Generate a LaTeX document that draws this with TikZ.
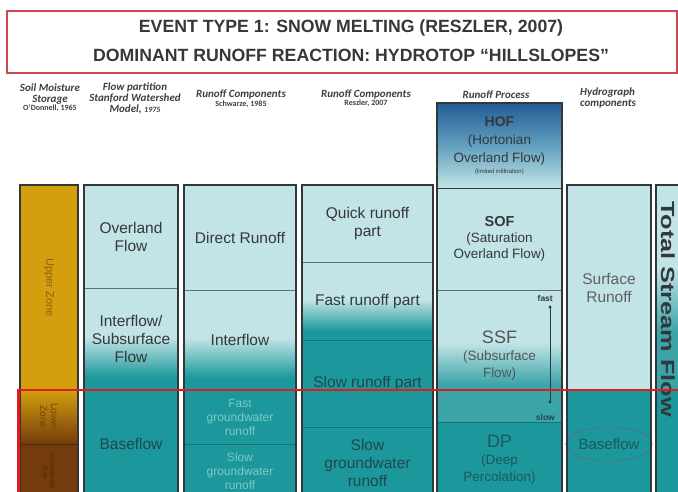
\documentclass[tikz,border=0pt]{standalone}
\usepackage{fontspec}
\setmainfont{Liberation Sans}
\newfontfamily\hdrfont{Carlito}
\usetikzlibrary{shapes.geometric}

\definecolor{lightc}{RGB}{194,228,230}
\definecolor{tealc}{RGB}{28,152,156}
\definecolor{tealmid}{RGB}{58,164,168}
\definecolor{tealdk}{RGB}{20,112,116}
\definecolor{hofmid}{RGB}{98,160,190}
\definecolor{goldc}{RGB}{212,158,14}
\definecolor{brownc}{RGB}{116,60,12}
\definecolor{hofblue}{RGB}{34,92,150}
\definecolor{framec}{RGB}{50,56,58}
\definecolor{divgray}{RGB}{95,112,116}
\definecolor{redc}{RGB}{222,30,30}
\definecolor{titlered}{RGB}{205,70,80}
\definecolor{txt}{RGB}{52,56,58}
\definecolor{txtteal}{RGB}{30,72,78}
\definecolor{fainttxt}{RGB}{125,200,200}
\definecolor{hdrc}{RGB}{62,62,62}
\definecolor{zonetxt}{RGB}{140,98,16}
\definecolor{zonedk}{RGB}{70,40,10}
\definecolor{ellc}{RGB}{88,108,140}

% vertical blends (bounding box maps to 25bp..75bp)
\pgfdeclareverticalshading{fadeteal}{100bp}{color(0bp)=(tealc); color(31bp)=(tealc); color(51bp)=(lightc); color(100bp)=(lightc)}
\pgfdeclareverticalshading{fadessf}{100bp}{color(0bp)=(tealmid); color(39bp)=(tealmid); color(55bp)=(lightc); color(100bp)=(lightc)}
\pgfdeclareverticalshading{goldbrown}{100bp}{color(0bp)=(brownc); color(25bp)=(brownc); color(75bp)=(goldc); color(100bp)=(goldc)}
\pgfdeclareverticalshading{hofshade}{100bp}{color(0bp)=(lightc); color(25bp)=(lightc); color(50bp)=(hofmid); color(75bp)=(hofblue); color(100bp)=(hofblue)}

\begin{document}
\begin{tikzpicture}[x=1pt,y=-1pt,
  cell/.style={anchor=north west, inner sep=0pt, outer sep=0pt, align=center, text=txt,
    font=\fontsize{15.5}{18}\selectfont},
  lt/.style={cell, fill=lightc},
  tl/.style={cell, fill=tealc, text=txtteal},
  fd/.style={cell, shade, shading=fadeteal},
  frame/.style={anchor=north west, inner sep=0pt, outer sep=0pt, draw=framec, line width=2.4pt},
  divl/.style={draw=divgray, line width=0.9pt},
  divt/.style={draw=tealdk, line width=0.9pt},
  hdr/.style={align=center, text=hdrc, inner sep=0pt,
    font=\hdrfont\bfseries\itshape\fontsize{11}{11}\selectfont},
  cite/.style={text=hdrc, inner sep=0pt, font=\hdrfont\bfseries\fontsize{8}{8}\selectfont},
  ztxt/.style={rotate=-90, align=center, inner sep=0pt, text=zonetxt},
]
\useasboundingbox (0,0) rectangle (678,492);
\clip (0,0) rectangle (678,492);

% title
\node[anchor=north west, draw=titlered, line width=1.6pt, minimum width=670pt, minimum height=62pt, inner sep=0pt] (tbox) at (6,10) {};
\node[align=center, inner sep=0pt, text=txt, font=\bfseries\fontsize{17.7}{29}\selectfont] (ttl) at (351,41)
  {EVENT TYPE 1: SNOW MELTING (RESZLER, 2007)\\DOMINANT RUNOFF REACTION: HYDROTOP “HILLSLOPES”};

% column headings
\node[hdr] (h1) at (50,94) {Soil Moisture\\Storage};
\node[cite] (h1c) at (50,108) {O’Donnell, 1965};
\node[hdr] (h2) at (135,98) {Flow partition\\Stanford Watershed\\Model, \fontsize{8}{8}\selectfont 1975};
\node[hdr] (h3) at (241,95) {Runoff Components};
\node[cite] (h3c) at (241,104) {Schwarze, 1985};
\node[hdr] (h4) at (366,95) {Runoff Components};
\node[cite] (h4c) at (366,103) {Reszler, 2007};
\node[hdr] (h5) at (496,95) {Runoff Process};
\node[hdr, align=left, anchor=north west] (h6) at (580,88) {Hydrograph\\components};

% column 1: soil moisture storage
\node[cell, fill=goldc, minimum width=58pt, minimum height=205pt] (uz) at (20,185) {};
\node[cell, shade, shading=goldbrown, minimum width=58pt, minimum height=54pt] (lz) at (20,390) {};
\node[cell, fill=brownc, minimum width=58pt, minimum height=56pt] (gz) at (20,444) {};
\node[ztxt, font=\fontsize{11}{12}\selectfont] (uzt) at (uz.center) {Upper Zone};
\node[ztxt, text=zonedk!70!goldc, font=\fontsize{10}{11}\selectfont] (lzt) at (lz.center) {Lower\\Zone};
\node[ztxt, text=zonedk, font=\fontsize{6}{7}\selectfont] (gzt) at (gz.center) {Groundwater\\Zone};
\draw[draw=zonedk, line width=0.9pt] (gz.north west) -- (gz.north east);

% column 2: flow partition
\node[lt, minimum width=94pt, minimum height=103pt] (ovl) at (84,185) {Overland\\Flow};
\node[fd, minimum width=94pt, minimum height=102pt] (ifl) at (84,288) {Interflow/\\Subsurface\\Flow};
\node[tl, minimum width=94pt, minimum height=108pt] (bfl) at (84,390) {\raisebox{0pt}{Baseflow}};
\draw[divl] (ovl.south west) -- (ovl.south east);

% column 3: runoff components (Schwarze)
\node[lt, minimum width=112pt, minimum height=105pt] (dro) at (184,185) {Direct Runoff};
\node[fd, minimum width=112pt, minimum height=100pt] (ifw) at (184,290) {Interflow};
\node[tl, text=fainttxt, font=\fontsize{12}{14}\selectfont, minimum width=112pt, minimum height=54pt] (fgw) at (184,390) {Fast\\groundwater\\runoff};
\node[tl, text=fainttxt, font=\fontsize{12}{14}\selectfont, minimum width=112pt, minimum height=54pt] (sgw) at (184,444) {Slow\\groundwater\\runoff};
\draw[divl] (dro.south west) -- (dro.south east);
\draw[divt] (sgw.north west) -- (sgw.north east);

% column 4: runoff components (Reszler)
\node[lt, minimum width=131pt, minimum height=77pt] (qrp) at (302,185) {Quick runoff\\part};
\node[fd, minimum width=131pt, minimum height=78pt] (frp) at (302,262) {Fast runoff part};
\node[tl, minimum width=131pt, minimum height=87pt] (srp) at (302,340) {\raisebox{-3pt}{Slow runoff part}};
\node[tl, minimum width=131pt, minimum height=71pt] (sgr) at (302,427) {Slow\\groundwater\\runoff};
\draw[divl] (qrp.south west) -- (qrp.south east);
\draw[divt] (srp.north west) -- (srp.north east);
\draw[divt] (sgr.north west) -- (sgr.north east);

% column 5: runoff process
\node[cell, shade, shading=hofshade, minimum width=125pt, minimum height=85pt, font=\fontsize{13.5}{18}\selectfont] (hof) at (437,103)
  {{\bfseries\fontsize{14}{18}\selectfont HOF}\\(Hortonian\\Overland Flow)\\[-7pt]{\fontsize{6}{7}\selectfont (limited infiltration)}};
\node[lt, minimum width=125pt, minimum height=102pt, font=\fontsize{13.5}{16}\selectfont] (sof) at (437,188)
  {{\bfseries\fontsize{14.5}{18}\selectfont SOF}\\(Saturation\\Overland Flow)};
\node[cell, shade, shading=fadessf, minimum width=125pt, minimum height=132pt, font=\fontsize{13.5}{17}\selectfont, text=txt!85!white] (ssf) at (437,290)
  {{\fontsize{18}{19}\selectfont SSF}\\(Subsurface\\Flow)};
\node[tl, minimum width=125pt, minimum height=76pt, font=\fontsize{13.5}{17}\selectfont, text=txtteal!80!tealc] (dp) at (437,422)
  {{\fontsize{18}{20}\selectfont DP}\\(Deep\\Percolation)};
\draw[divt, draw=framec] (hof.south west) -- (hof.south east);
\draw[divl] (sof.south west) -- (sof.south east);
\draw[divt] (dp.north west) -- (dp.north east);
% fast-slow scale
\coordinate (fa) at (550,307);
\coordinate (sa) at (550,402);
\draw[draw=framec, line width=0.8pt] (fa) -- (sa);
\fill[framec] (fa) circle (1.6);
\fill[framec] (sa) circle (1.6);
\node[anchor=east, inner sep=0pt, text=txt, font=\bfseries\fontsize{8.5}{9}\selectfont] (fst) at (553,298) {fast};
\node[anchor=east, inner sep=0pt, text=txtteal, font=\bfseries\fontsize{8.5}{9}\selectfont] (slw) at (555,417) {slow};

% column 6: hydrograph components
\node[lt, minimum width=84pt, minimum height=205pt, text=txt!80!white] (sur) at (567,185) {Surface\\Runoff};
\node[tl, minimum width=84pt, minimum height=108pt] (bf2) at (567,390) {};
\node[ellipse, draw=ellc, line width=0.8pt, minimum width=70pt, minimum height=34pt, inner sep=0pt, text=txtteal!80!tealc,
  font=\fontsize{15}{18}\selectfont] (bfe) at (609,444) {Baseflow};

% column 7: total stream flow
\node[cell, shade, shading=fadessf, minimum width=40pt, minimum height=205pt] (tsu) at (656,185) {};
\node[tl, minimum width=40pt, minimum height=108pt] (tsl) at (656,390) {};
\node[rotate=-90, inner sep=0pt, text=txt, font=\bfseries\fontsize{19}{20}\selectfont] (tsf) at (668,309)
  {\scalebox{1.33}[1]{Total Stream Flow}};

% column frames
\node[frame, minimum width=58pt, minimum height=330pt] (f1) at (20,185) {};
\node[frame, minimum width=94pt, minimum height=330pt] (f2) at (84,185) {};
\node[frame, minimum width=112pt, minimum height=330pt] (f3) at (184,185) {};
\node[frame, minimum width=131pt, minimum height=330pt] (f4) at (302,185) {};
\node[frame, minimum width=125pt, minimum height=420pt] (f5) at (437,103) {};
\node[frame, minimum width=84pt, minimum height=330pt] (f6) at (567,185) {};
\node[frame, minimum width=60pt, minimum height=330pt] (f7) at (656,185) {};

% boundary between upper and lower storage
\coordinate (rl) at (18.5,390);
\coordinate (rr) at (690,390);
\coordinate (rb) at (18.5,500);
\draw[redc, line width=2.2pt] (rb) -- (rl) -- (rr);
\end{tikzpicture}
\end{document}
